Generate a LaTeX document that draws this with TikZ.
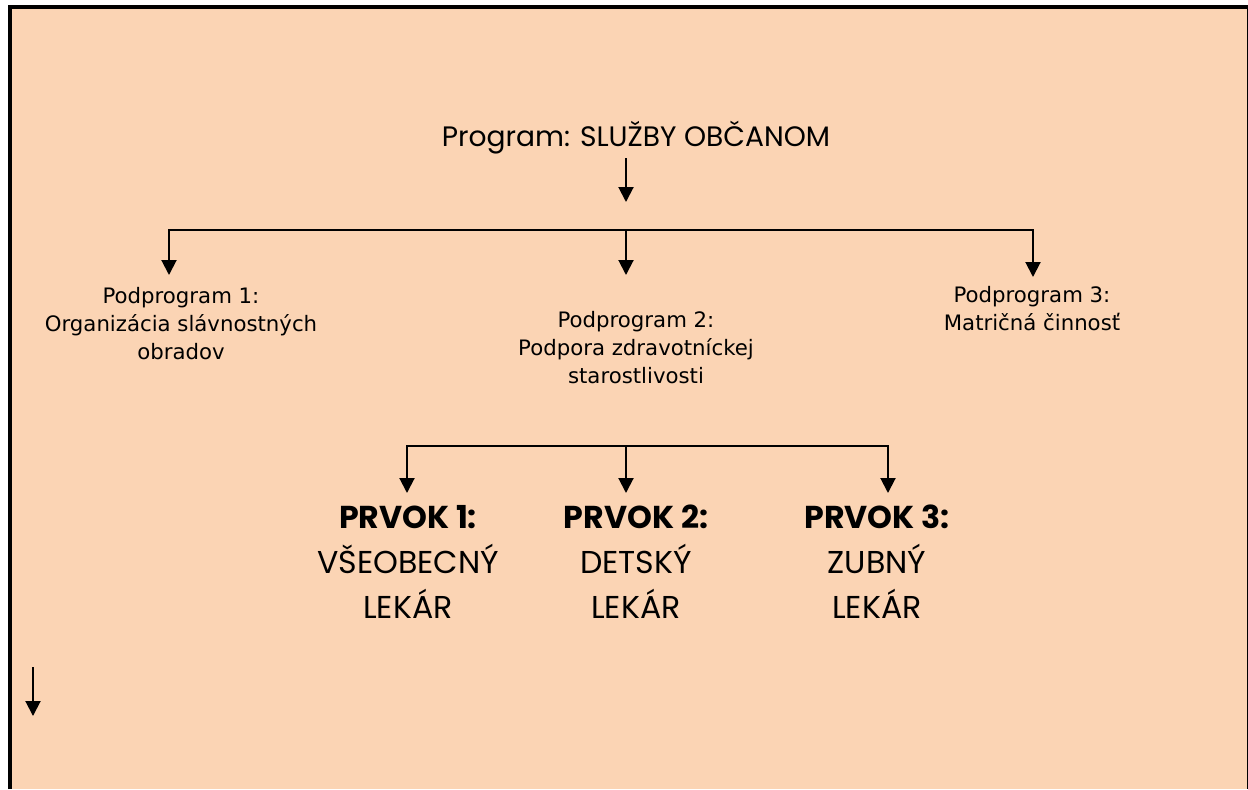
\documentclass[tikz,border=0pt]{standalone}
\usepackage{fontspec}
\setmainfont{DejaVu Sans}
\newfontfamily\gothic{Poppins}
\usetikzlibrary{arrows.meta}
\definecolor{peach}{RGB}{251,212,180}

\begin{document}
\begin{tikzpicture}[x=0.02cm, y=-0.02cm, >={Triangle[length=0.3cm,width=0.3cm]}, line width=0.04cm,
    title/.style={inner sep=0pt, font=\gothic\fontsize{16}{19}\selectfont},
    sub/.style={inner sep=0pt, align=center, font=\fontsize{12.1}{15.9}\selectfont},
    elem/.style={inner sep=0pt, align=center, font=\gothic\fontsize{18}{25.6}\selectfont}]
    \useasboundingbox (0,0) rectangle (1248,789);
    \fill[peach] (8,5) rectangle (1248,789);
    \draw[line width=0.08cm] (10,789) -- (10,7) -- (1249.4,7) -- (1249.4,789);

    \node(prog)[title, anchor=base] at (636,146) {Program: SLUŽBY OBČANOM};
    \node(sub1)[sub, anchor=base] at (181,359) {Podprogram 1:\\Organizácia slávnostných\\obradov};
    \node(sub2)[sub, anchor=base] at (636,383) {Podprogram 2:\\Podpora zdravotníckej\\starostlivosti};
    \node(sub3)[sub, anchor=base] at (1032,330) {Podprogram 3:\\Matričná činnosť};
    \node(el1)[elem, anchor=base] at (408,618) {\textbf{PRVOK 1:}\\VŠEOBECNÝ\\LEKÁR};
    \node(el2)[elem, anchor=base] at (636,618) {\textbf{PRVOK 2:}\\DETSKÝ\\LEKÁR};
    \node(el3)[elem, anchor=base] at (877,618) {\textbf{PRVOK 3:}\\ZUBNÝ\\LEKÁR};

    \coordinate(progend) at (626,202);
    \coordinate(bar1) at (626,230);
    \coordinate(tip1) at (169,275);
    \coordinate(tip2) at (626,275);
    \coordinate(tip3) at (1033,277);
    \coordinate(bar2) at (626,446);
    \coordinate(tip4) at (407,493);
    \coordinate(tip5) at (626,493);
    \coordinate(tip6) at (888,493);
    \coordinate(loosetop) at (33,667);
    \coordinate(loosetip) at (33,716);

    \draw[->, shorten <=2pt] (prog.south -| progend) -- (progend);
    \draw[->] (bar1) -| (tip1);
    \draw[->] (bar1) -- (tip2);
    \draw[->] (bar1) -| (tip3);
    \draw[->] (bar2) -| (tip4);
    \draw[->] (bar2) -- (tip5);
    \draw[->] (bar2) -| (tip6);
    \draw[->] (loosetop) -- (loosetip);
\end{tikzpicture}
\end{document}
